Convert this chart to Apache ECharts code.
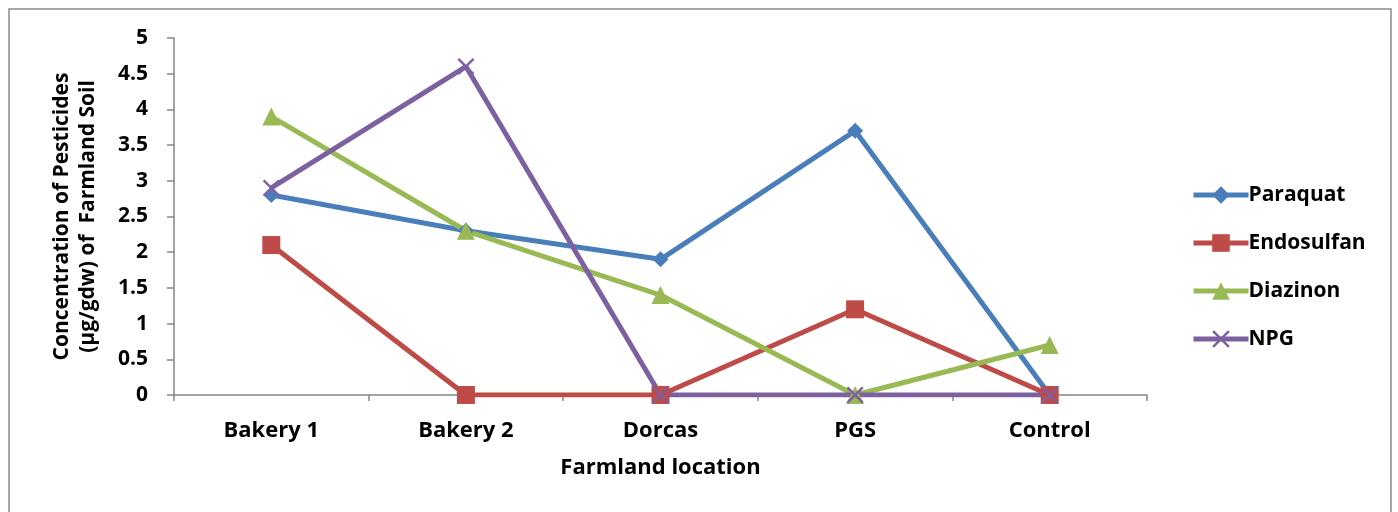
<!DOCTYPE html>
<html>
<head>
<meta charset="utf-8">
<script src="https://cdn.jsdelivr.net/npm/echarts@6/dist/echarts.min.js"></script>
<style>
  html, body { margin: 0; padding: 0; background: #fff; }
  #chart { width: 1398px; height: 512px; }
</style>
</head>
<body>
<div id="chart"></div>
<script>
// Farmland sampling locations
const categories = ['Bakery 1', 'Bakery 2', 'Dorcas', 'PGS', 'Control'];

// Pesticide concentrations (µg/gdw) per location
const paraquat   = [2.8, 2.3, 1.9, 3.7, 0];
const endosulfan = [2.1, 0, 0, 1.2, 0];
const diazinon   = [3.9, 2.3, 1.4, 0, 0.7];
const npg        = [2.9, 4.6, 0, 0, 0];

const yTicks = { min: 0, max: 5, interval: 0.5 };

const FONT = '"Open Sans", "DejaVu Sans", sans-serif';
const crossSymbol = 'path://M0,1 L1,0 L5,4 L9,0 L10,1 L6,5 L10,9 L9,10 L5,6 L1,10 L0,9 L4,5 Z';

function lineSeries(name, data, color, symbol, size) {
  return {
    name: name,
    type: 'line',
    data: data,
    symbol: symbol,
    symbolSize: size,
    showAllSymbol: true,
    lineStyle: { color: color, width: 5 },
    itemStyle: { color: color },
    z: 3
  };
}

const chart = echarts.init(document.getElementById('chart'), null, { renderer: 'canvas' });
chart.setOption({
  animation: false,
  backgroundColor: '#fff',
  graphic: [{
    type: 'rect',
    shape: { x: 9, y: 9, width: 1382, height: 600 },
    style: { fill: 'none', stroke: '#8c8c8c', lineWidth: 1.5 },
    silent: true
  }],
  grid: { left: 174, top: 38, right: 251, bottom: 117 },
  legend: {
    orient: 'vertical',
    left: 1186,
    top: 179,
    itemWidth: 55,
    itemHeight: 22,
    itemGap: 26,
    lineStyle: { width: 5 },
    textStyle: { fontFamily: FONT, fontWeight: 'bold', fontSize: 21, lineHeight: 22, color: '#000', padding: [0, 0, 0, -5] },
    data: ['Paraquat', 'Endosulfan', 'Diazinon', 'NPG']
  },
  xAxis: {
    type: 'category',
    data: categories,
    boundaryGap: true,
    name: 'Farmland location',
    nameLocation: 'middle',
    nameGap: 62,
    nameTextStyle: { fontFamily: FONT, fontWeight: 'bold', fontSize: 22, color: '#000' },
    axisLine: { lineStyle: { color: '#868686', width: 1.5 } },
    axisTick: { show: true, alignWithLabel: false, length: 6, lineStyle: { color: '#868686', width: 1.5 } },
    axisLabel: { fontFamily: FONT, fontWeight: 'bold', fontSize: 22, color: '#000', margin: 25 }
  },
  yAxis: {
    type: 'value',
    min: yTicks.min,
    max: yTicks.max,
    interval: yTicks.interval,
    name: 'Concentration of Pesticides\n(µg/gdw) of  Farmland Soil',
    nameLocation: 'middle',
    nameRotate: 90,
    nameGap: 73,
    nameTextStyle: { fontFamily: FONT, fontWeight: 'bold', fontSize: 21, color: '#000', lineHeight: 26, align: 'center' },
    axisLine: { show: true, lineStyle: { color: '#868686', width: 1.5 } },
    axisTick: { show: true, length: 7, lineStyle: { color: '#868686', width: 1.5 } },
    splitLine: { show: false },
    axisLabel: { fontFamily: FONT, fontWeight: 'bold', fontSize: 21, color: '#000', margin: 26 }
  },
  series: [
    lineSeries('Paraquat', paraquat, '#4A7EBB', 'diamond', 16),
    lineSeries('Endosulfan', endosulfan, '#BE4B48', 'rect', 18),
    lineSeries('Diazinon', diazinon, '#98B954', 'triangle', 18),
    lineSeries('NPG', npg, '#7D60A0', crossSymbol, 17)
  ]
});
</script>
</body>
</html>
